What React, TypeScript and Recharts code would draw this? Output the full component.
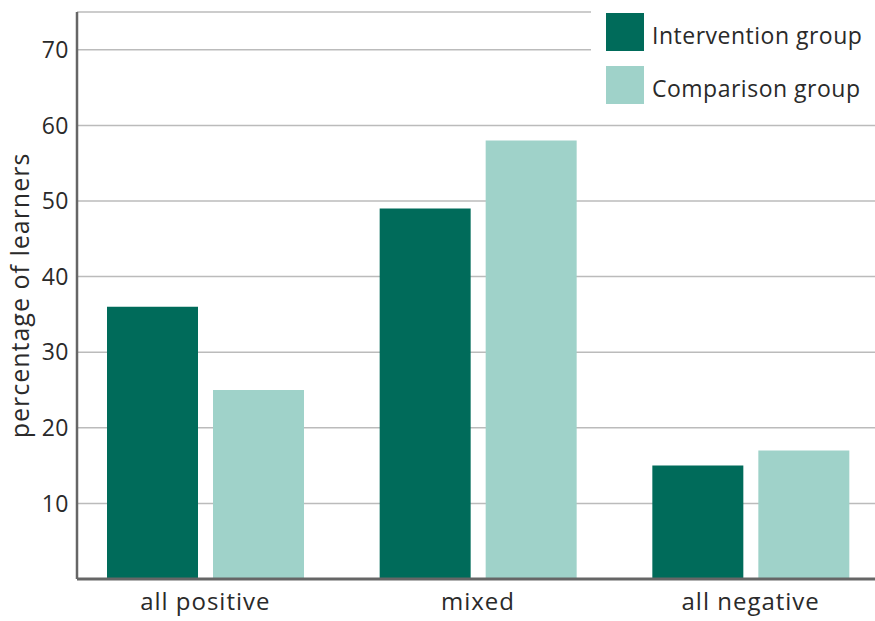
import React from 'react';
import { BarChart, Bar, XAxis, YAxis, CartesianGrid, Legend } from 'recharts';

const categories = ['all positive', 'mixed', 'all negative'];
const interventionValues = [36, 49, 15];
const comparisonValues = [25, 58, 17];
const yTicks = [10, 20, 30, 40, 50, 60, 70];

const SERIES = [
  { key: 'intervention', name: 'Intervention group', color: '#006B5A' },
  { key: 'comparison', name: 'Comparison group', color: '#9FD2C9' },
];

const FONT = '"Open Sans", Lato, sans-serif';

const data = categories.map((name, i) => ({
  name,
  intervention: interventionValues[i],
  comparison: comparisonValues[i],
}));

// legend sits on a white box over the top-right corner, hiding part of the 70 gridline
const renderLegend = () => (
  <div style={{ background: '#fff', width: 284, height: 112, paddingTop: 13, paddingLeft: 15, boxSizing: 'border-box' }}>
    {SERIES.map((s, i) => (
      <div key={s.key} style={{ display: 'flex', alignItems: 'center', height: 38, marginBottom: i === 0 ? 15 : 0 }}>
        <span style={{ width: 38, height: 38, background: s.color, display: 'inline-block', flexShrink: 0 }} />
        <span
          style={{
            marginLeft: 8,
            position: 'relative',
            top: 3,
            fontFamily: FONT,
            fontSize: 23,
            letterSpacing: 0.5,
            color: '#2a2a2a',
            whiteSpace: 'nowrap',
          }}
        >
          {s.name}
        </span>
      </div>
    ))}
  </div>
);

export default function App() {
  return (
    <div style={{ position: 'absolute', left: 0, top: 0, width: 875, height: 621, background: '#fff' }}>
      <BarChart
        width={875}
        height={621}
        data={data}
        margin={{ top: 12, right: 0, bottom: 0, left: 0 }}
        barSize={91}
        barGap={15}
      >
        <CartesianGrid horizontal vertical={false} stroke="#bbb" strokeWidth={1.5} />
        <XAxis
          dataKey="name"
          height={42}
          padding={{ left: -8, right: -12 }}
          axisLine={{ stroke: '#666', strokeWidth: 3 }}
          tickLine={false}
          tick={{ fill: '#2a2a2a', fontSize: 24, fontFamily: FONT, letterSpacing: 1 }}
          tickMargin={8}
        />
        <YAxis
          width={77}
          domain={[0, 75]}
          ticks={yTicks}
          allowDataOverflow
          axisLine={{ stroke: '#666', strokeWidth: 2.5 }}
          tickLine={false}
          tick={{ fill: '#2a2a2a', fontSize: 23, fontFamily: FONT, letterSpacing: 0.5 }}
          label={{
            value: 'percentage of learners',
            angle: -90,
            position: 'insideLeft',
            offset: 0,
            dx: 20,
            style: { textAnchor: 'middle', fill: '#2a2a2a', fontSize: 25, fontFamily: FONT, letterSpacing: 1 },
          }}
        />
        <Legend
          layout="vertical"
          align="center"
          verticalAlign="middle"
          content={renderLegend}
          wrapperStyle={{ top: 0, left: 591, width: 284, height: 112 }}
        />
        {SERIES.map((s) => (
          <Bar key={s.key} dataKey={s.key} name={s.name} fill={s.color} isAnimationActive={false} />
        ))}
      </BarChart>
    </div>
  );
}
